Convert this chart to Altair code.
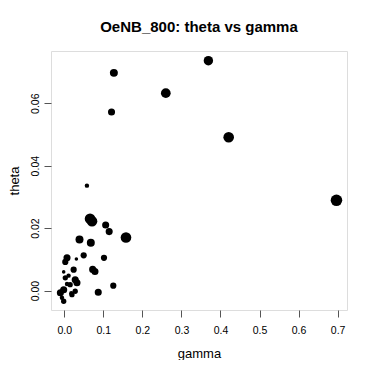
import altair as alt
import pandas as pd

gamma = [0.369, 0.127, 0.260, 0.121, 0.421, 0.697, 0.058, 0.066, 0.071, 0.106,
         0.115, 0.158, 0.039, 0.068, 0.0497, 0.1017, 0.007, 0.0026, 0.031, 0.0727,
         0.0786, 0.024, -0.0015, 0.0026, 0.028, 0.0325, 0.007, 0.1255, 0.087, -0.0015,
         -0.010, 0.028, 0.0197, -0.0015, -0.006, 0.015, 0.011, 0.018]
theta = [0.0736, 0.0697, 0.0632, 0.0572, 0.0491, 0.0289, 0.0336, 0.0230, 0.0222, 0.0210,
         0.0189, 0.0170, 0.0164, 0.0153, 0.0113, 0.0105, 0.0105, 0.0092, 0.0101, 0.0068,
         0.0061, 0.0067, 0.0060, 0.0041, 0.0035, 0.0025, 0.0021, 0.0016, -0.0005, 0.0003,
         -0.0007, -0.0002, -0.0013, -0.0034, -0.0023, 0.0019, 0.0048, -0.0008]
weight = [5.3, 4.5, 5.5, 4.0, 6.0, 6.5, 2.5, 6.0, 6.0, 4.0,
          4.0, 6.0, 4.5, 4.5, 3.5, 3.5, 4.0, 3.5, 2.0, 4.0,
          4.0, 3.5, 2.0, 3.0, 4.0, 4.0, 2.5, 3.5, 4.0, 4.0,
          4.0, 3.0, 3.0, 3.0, 2.5, 3.0, 2.5, 2.5]

df = pd.DataFrame({"gamma": gamma, "theta": theta, "w": weight})

FONT = "Liberation Sans"

chart = alt.Chart(df).mark_circle(color="black", opacity=1).encode(
    x=alt.X("gamma:Q",
            scale=alt.Scale(domain=[-0.034, 0.724], nice=False, zero=False),
            axis=alt.Axis(title="gamma", values=[0, 0.1, 0.2, 0.3, 0.4, 0.5, 0.6, 0.7],
                          format=".1f", grid=False, domain=False,
                          tickColor="#555", tickSize=7,
                          labelFont=FONT, labelFontSize=10.5, labelColor="black",
                          labelPadding=8, titleFont=FONT, titleFontSize=13,
                          titleFontWeight="normal", titleColor="black",
                          titlePadding=12)),
    y=alt.Y("theta:Q",
            scale=alt.Scale(domain=[-0.0062, 0.0767], nice=False, zero=False),
            axis=alt.Axis(title="theta", values=[0, 0.02, 0.04, 0.06],
                          format=".2f", grid=False, domain=False,
                          tickColor="#555", tickSize=7,
                          labelFont=FONT, labelFontSize=10.5, labelColor="black",
                          labelAngle=270, labelAlign="center", labelBaseline="bottom",
                          labelPadding=4, titleFont=FONT, titleFontSize=13,
                          titleFontWeight="normal", titleColor="black",
                          titlePadding=9)),
    size=alt.Size("w:Q", legend=None,
                  scale=alt.Scale(type="pow", exponent=2, domain=[0, 10], range=[0, 314])),
).properties(
    width=296, height=259,
    title=alt.TitleParams("OeNB_800: theta vs gamma", font=FONT, fontSize=15,
                          fontWeight="bold", color="black", anchor="middle",
                          baseline="alphabetic", offset=4),
    autosize=alt.AutoSizeParams(type="none"),
    padding={"left": 43, "top": 43, "right": 15, "bottom": 50},
).configure_view(stroke="#555", strokeWidth=1).configure(background="white")

chart.save("out.html", embed_options={"renderer": "svg", "actions": False})
